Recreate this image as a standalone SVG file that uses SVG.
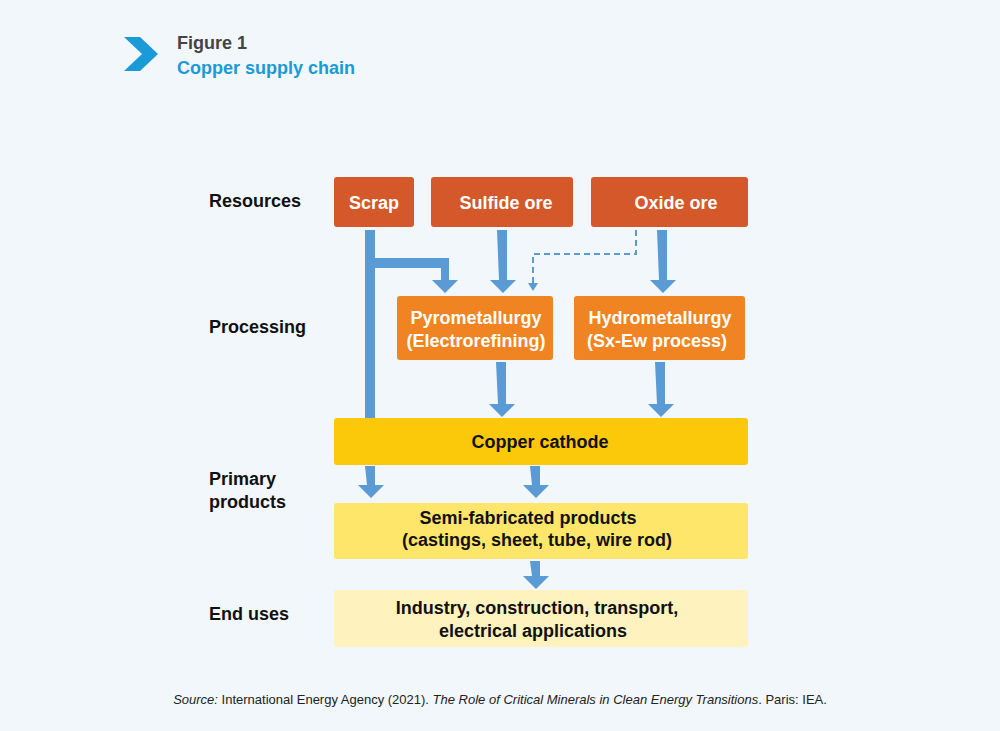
<svg xmlns="http://www.w3.org/2000/svg" width="1000" height="731" viewBox="0 0 1000 731">
<style>
text{font-family:"Liberation Sans",Arial,sans-serif;font-weight:bold}
.lab{font-size:18px;fill:#111}
.w{font-size:18px;fill:#fff}
.b{font-size:18px;fill:#111}
.bar{fill:#5b9bd5}
</style>
<rect width="1000" height="731" fill="#f2f7fb"/>
<polygon points="124,37 140,37 158,54 140,71 124,71 142,54" fill="#1a9ad6"/>
<text x="177" y="49" font-size="18" fill="#444">Figure 1</text>
<text x="177" y="74" font-size="18" fill="#1a9ad6">Copper supply chain</text>
<text class="lab" x="209" y="207">Resources</text>
<text class="lab" x="209" y="333">Processing</text>
<text class="lab" x="209" y="485">Primary</text>
<text class="lab" x="209" y="508">products</text>
<text class="lab" x="209" y="620">End uses</text>
<g id="connectors">
<path class="bar" d="M365,230h10v188h-10z"/>
<path class="bar" d="M375,258h74v22h9l-13,13l-13,-13h9v-12h-66z"/>
<path class="bar" d="M497,230h10v50h9l-13,13l-13,-13h9z"/>
<path class="bar" d="M657,230h10v50h9l-13,13l-13,-13h9z"/>
<path class="bar" d="M496,362h10v42h9l-13,13l-13,-13h9z"/>
<path class="bar" d="M655,362h10v42h9l-13,13l-13,-13h9z"/>
<path class="bar" d="M365,466h10v19h9l-13,13l-13,-13h9z"/>
<path class="bar" d="M530,466h10v19h9l-13,13l-13,-13h9z"/>
<path class="bar" d="M530,561h10v15h9l-13,13l-13,-13h9z"/>
<path d="M636,230v24h-103v30" fill="none" stroke="#5b9bd5" stroke-width="2" stroke-dasharray="6,4"/>
<polygon points="528,283 538,283 533,291" fill="#5b9bd5"/>
</g>
<g id="scrap"><rect x="334" y="177" width="80" height="50" rx="3" fill="#d4582a"/><text class="w" x="374" y="209" text-anchor="middle">Scrap</text></g>
<g id="sulfide"><rect x="431" y="177" width="142" height="50" rx="3" fill="#d4582a"/><text class="w" x="506" y="209" text-anchor="middle">Sulfide ore</text></g>
<g id="oxide"><rect x="591" y="177" width="157" height="50" rx="3" fill="#d4582a"/><text class="w" x="676" y="209" text-anchor="middle">Oxide ore</text></g>
<g id="pyro"><rect x="397" y="296" width="156" height="64" rx="3" fill="#f08322"/><text class="w" x="476" y="324" text-anchor="middle">Pyrometallurgy</text><text class="w" x="476" y="347" text-anchor="middle">(Electrorefining)</text></g>
<g id="hydro"><rect x="574" y="296" width="171" height="64" rx="3" fill="#f08322"/><text class="w" x="660" y="324" text-anchor="middle">Hydrometallurgy</text><text class="w" x="657" y="347" text-anchor="middle">(Sx-Ew process)</text></g>
<g id="cathode"><rect x="334" y="418" width="414" height="47" rx="3" fill="#fcc80a"/><text class="b" x="540" y="448" text-anchor="middle">Copper cathode</text></g>
<g id="semi"><rect x="334" y="503" width="414" height="56" rx="3" fill="#fee66a"/><text class="b" x="528" y="524" text-anchor="middle">Semi-fabricated products</text><text class="b" x="537" y="546" text-anchor="middle">(castings, sheet, tube, wire rod)</text></g>
<g id="enduse"><rect x="334" y="590" width="414" height="57" rx="3" fill="#fef3bf"/><text class="b" x="537" y="614" text-anchor="middle">Industry, construction, transport,</text><text class="b" x="533" y="637" text-anchor="middle">electrical applications</text></g>
<text x="500" y="704" font-size="13" fill="#222" text-anchor="middle" style="font-weight:normal"><tspan font-style="italic">Source:</tspan> International Energy Agency (2021). <tspan font-style="italic">The Role of Critical Minerals in Clean Energy Transitions</tspan>. Paris: IEA.</text>
</svg>
